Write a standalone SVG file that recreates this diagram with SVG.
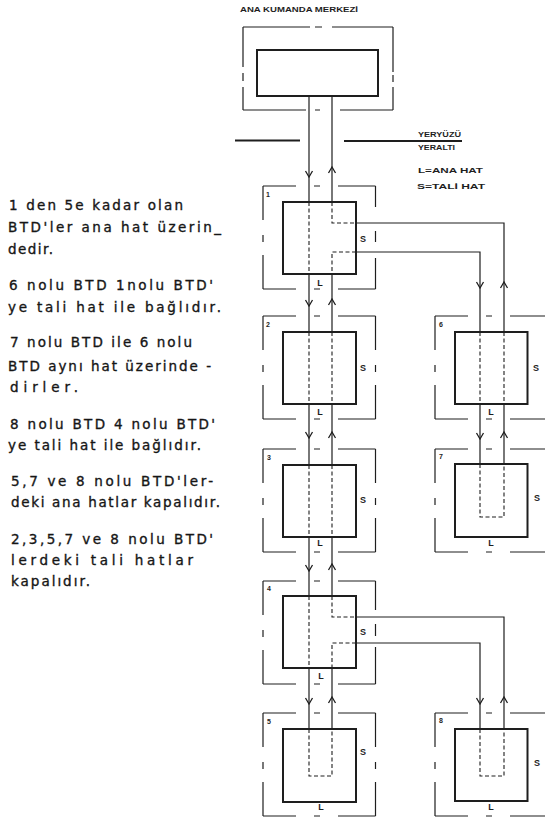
<svg xmlns="http://www.w3.org/2000/svg" width="545" height="821" viewBox="0 0 545 821">
<style>
.ln{fill:none;stroke:#1e1e1e;stroke-width:1.2}
.gl{fill:none;stroke:#1e1e1e;stroke-width:1.8}
.dl{fill:none;stroke:#1e1e1e;stroke-width:1.1;stroke-dasharray:4 2.5}
.bx{fill:none;stroke:#1e1e1e;stroke-width:2}
.hs{fill:none;stroke:#1e1e1e;stroke-width:1.2;stroke-dasharray:33 18 6 18 40}
.vs{fill:none;stroke:#1e1e1e;stroke-width:1.2;stroke-dasharray:34 15 7 13 40}
.ar{fill:none;stroke:#1e1e1e;stroke-width:1.3}
.sm{font-family:"Liberation Sans",Arial,sans-serif;font-weight:bold;font-size:7px;fill:#1e1e1e}
.lb{font-family:"Liberation Sans",Arial,sans-serif;font-weight:bold;font-size:9px;fill:#1e1e1e}
.tx{font-family:"DejaVu Sans",sans-serif;font-size:13.5px;fill:#161616;stroke:#161616;stroke-width:0.35}
</style>
<rect width="545" height="821" fill="#fff"/>

<g id="header">
<text class="sm" x="240" y="12" textLength="118" lengthAdjust="spacingAndGlyphs">ANA KUMANDA MERKEZİ</text>
<path class="gl" d="M235 140.5 H300 M344 141 H462"/>
<text class="sm" x="418" y="137" textLength="43" lengthAdjust="spacingAndGlyphs">YERYÜZÜ</text>
<text class="sm" x="418" y="150" textLength="37" lengthAdjust="spacingAndGlyphs">YERALTI</text>
<text class="sm" x="418" y="173" textLength="65" lengthAdjust="spacingAndGlyphs">L=ANA HAT</text>
<text class="sm" x="417" y="189" textLength="68" lengthAdjust="spacingAndGlyphs">S=TALİ HAT</text>
</g>

<g id="notes">
<text class="tx" x="9" y="210" textLength="174" lengthAdjust="spacing">1 den 5e kadar olan</text>
<text class="tx" x="8" y="232" textLength="213" lengthAdjust="spacing">BTD'ler ana hat üzerin_</text>
<text class="tx" x="8" y="254" textLength="45" lengthAdjust="spacing">dedir.</text>
<text class="tx" x="9" y="290" textLength="204" lengthAdjust="spacing">6 nolu BTD 1nolu BTD'</text>
<text class="tx" x="8" y="312" textLength="213" lengthAdjust="spacing">ye tali hat ile bağlıdır.</text>
<text class="tx" x="10" y="347" textLength="182" lengthAdjust="spacing">7 nolu BTD ile 6 nolu</text>
<text class="tx" x="8" y="371" textLength="203" lengthAdjust="spacing">BTD aynı hat üzerinde -</text>
<text class="tx" x="10" y="392" textLength="68" lengthAdjust="spacing">dirler.</text>
<text class="tx" x="10" y="429" textLength="205" lengthAdjust="spacing">8 nolu BTD 4 nolu BTD'</text>
<text class="tx" x="8" y="450" textLength="193" lengthAdjust="spacing">ye tali hat ile bağlıdır.</text>
<text class="tx" x="11" y="486" textLength="202" lengthAdjust="spacing">5,7 ve 8 nolu BTD'ler-</text>
<text class="tx" x="11" y="507" textLength="209" lengthAdjust="spacing">deki ana hatlar kapalıdır.</text>
<text class="tx" x="11" y="544" textLength="202" lengthAdjust="spacing">2,3,5,7 ve 8 nolu BTD'</text>
<text class="tx" x="11" y="565" textLength="182" lengthAdjust="spacing">lerdeki tali hatlar</text>
<text class="tx" x="11" y="586" textLength="79" lengthAdjust="spacing">kapalıdır.</text>
</g>

<g id="merkez">
<path class="ln" d="M243 27 H393" style="stroke-dasharray:67 5 7 10 70"/>
<path class="ln" d="M243 110 H393" style="stroke-dasharray:63 9 5 20 60"/>
<path class="ln" d="M243 27 V110" style="stroke-dasharray:40 6 8 6 30"/>
<path class="ln" d="M393 27 V110" style="stroke-dasharray:45 3 7 5 30"/>
<rect class="bx" x="257" y="50" width="121" height="46"/>
</g>

<g id="connectors">
<path class="ln" d="M309 96 V202 M309 274 V332 M309 404 V465 M309 537 V596 M309 668 V729"/>
<path class="dl" d="M309 202 V274 M309 332 V404 M309 465 V537 M309 596 V668 M309 729 V776 H332 V729"/>
<path class="ln" d="M332 96 V202 M332 274 V332 M332 404 V465 M332 537 V596 M332 668 V729"/>
<path class="dl" d="M332 202 V223 H356 M356 252 H332 V274 M332 332 V404 M332 465 V537 M332 596 V617 H356 M356 643 H332 V668"/>
<path class="ln" d="M356 223 H504 V332 M356 252 H480 V332 M504 404 V464 M480 404 V464 M356 617 H504 V729 M356 643 H480 V729"/>
<path class="dl" d="M480 332 V404 M504 332 V404 M480 464 V517 H504 V464 M480 729 V776 H504 V729"/>
<path class="ar" d="M305.5 171 L309 177 L312.5 171 M328.5 173 L332 167 L335.5 173"/>
<path class="ar" d="M305.5 300 L309 306 L312.5 300 M328.5 305 L332 299 L335.5 305"/>
<path class="ar" d="M305.5 432 L309 438 L312.5 432 M328.5 438 L332 432 L335.5 438"/>
<path class="ar" d="M305.5 565 L309 571 L312.5 565 M328.5 570 L332 564 L335.5 570"/>
<path class="ar" d="M305.5 698 L309 704 L312.5 698 M328.5 703 L332 697 L335.5 703"/>
<path class="ar" d="M476.5 282 L480 288 L483.5 282 M500.5 288 L504 282 L507.5 288"/>
<path class="ar" d="M476.5 433 L480 439 L483.5 433 M500.5 438 L504 432 L507.5 438"/>
<path class="ar" d="M476.5 698 L480 704 L483.5 698 M500.5 703 L504 697 L507.5 703"/>
</g>

<g id="btd1">
<path class="hs" d="M263 186 H375.5 M263 289 H375.5"/>
<path class="vs" d="M263 186 V289"/>
<path class="ln" d="M375.5 186 V289" style="stroke-dasharray:21 24 11 16 40"/>
<rect class="bx" x="283" y="202" width="73" height="72"/>
<text class="sm" x="266" y="197">1</text>
<text class="lb" x="363" y="242" text-anchor="middle">S</text>
<text class="lb" x="320" y="286" text-anchor="middle">L</text>
</g>
<g id="btd2">
<path class="hs" d="M263 316 H375.5 M263 419 H375.5"/>
<path class="vs" d="M263 316 V419 M375.5 316 V419"/>
<rect class="bx" x="283" y="332" width="73" height="72"/>
<text class="sm" x="266" y="327">2</text>
<text class="lb" x="363" y="371" text-anchor="middle">S</text>
<text class="lb" x="320" y="415" text-anchor="middle">L</text>
</g>
<g id="btd3">
<path class="hs" d="M263 449 H375.5 M263 552 H375.5"/>
<path class="vs" d="M263 449 V552 M375.5 449 V552"/>
<rect class="bx" x="283" y="465" width="73" height="72"/>
<text class="sm" x="267" y="460">3</text>
<text class="lb" x="363" y="503" text-anchor="middle">S</text>
<text class="lb" x="320" y="546" text-anchor="middle">L</text>
</g>
<g id="btd4">
<path class="hs" d="M263 581 H375.5 M263 684 H375.5"/>
<path class="vs" d="M263 581 V684"/>
<path class="ln" d="M375.5 581 V684" style="stroke-dasharray:29 14 12 11 40"/>
<rect class="bx" x="283" y="596" width="73" height="72"/>
<text class="sm" x="267" y="591">4</text>
<text class="lb" x="363" y="635" text-anchor="middle">S</text>
<text class="lb" x="321" y="679" text-anchor="middle">L</text>
</g>
<g id="btd5">
<path class="hs" d="M263 713 H375.5 M263 816 H375.5"/>
<path class="vs" d="M263 713 V816 M375.5 713 V816"/>
<rect class="bx" x="283" y="729" width="73" height="73"/>
<text class="sm" x="267" y="724">5</text>
<text class="lb" x="363" y="755" text-anchor="middle">S</text>
<text class="lb" x="321" y="810" text-anchor="middle">L</text>
</g>
<g id="btd6">
<path class="hs" d="M435 316 H547 M435 419 H547"/>
<path class="vs" d="M435 316 V419 M547 316 V419"/>
<rect class="bx" x="455" y="332" width="72.5" height="72"/>
<text class="sm" x="439" y="327">6</text>
<text class="lb" x="536" y="371" text-anchor="middle">S</text>
<text class="lb" x="491" y="415" text-anchor="middle">L</text>
</g>
<g id="btd7">
<path class="hs" d="M435 449 H547 M435 552 H547"/>
<path class="vs" d="M435 449 V552 M547 449 V552"/>
<rect class="bx" x="455" y="464" width="72.5" height="73"/>
<text class="sm" x="439" y="459">7</text>
<text class="lb" x="537" y="501" text-anchor="middle">S</text>
<text class="lb" x="491" y="546" text-anchor="middle">L</text>
</g>
<g id="btd8">
<path class="hs" d="M435 713 H547 M435 816 H547"/>
<path class="vs" d="M435 713 V816 M547 713 V816"/>
<rect class="bx" x="455" y="729" width="72.5" height="72"/>
<text class="sm" x="439" y="723">8</text>
<text class="lb" x="537" y="766" text-anchor="middle">S</text>
<text class="lb" x="491" y="810" text-anchor="middle">L</text>
</g>
</svg>
